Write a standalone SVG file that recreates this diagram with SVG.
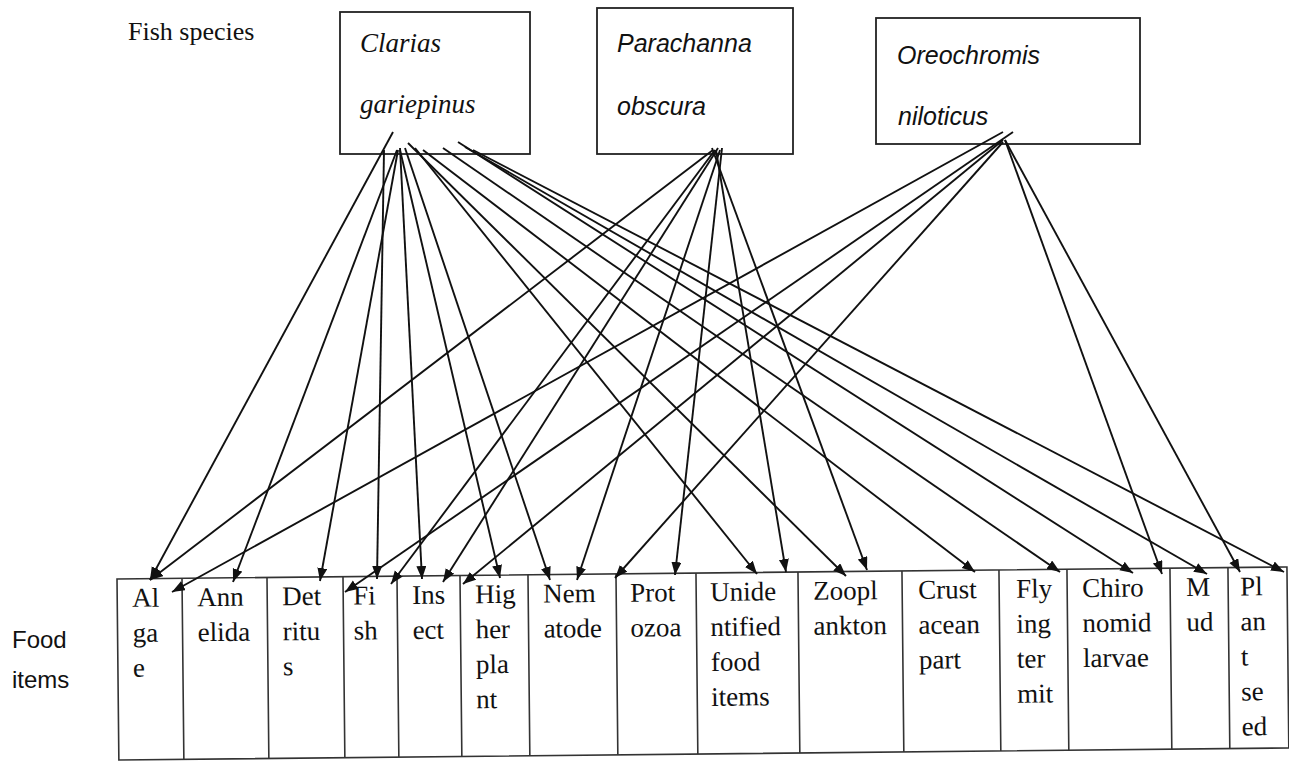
<svg xmlns="http://www.w3.org/2000/svg" width="1289" height="761" viewBox="0 0 1289 761">
<style>
.bg{fill:#ffffff}
.box{fill:none;stroke:#222;stroke-width:1.8}
.sp{font-family:"Liberation Sans",Arial,sans-serif;font-style:italic;font-size:25px;fill:#111}
.spc{font-family:"Liberation Serif","Times New Roman",serif;font-style:italic;font-size:27px;fill:#111}
.lbl{font-family:"Liberation Serif","Times New Roman",serif;font-size:26px;fill:#111}
.lbls{font-family:"Liberation Sans",Arial,sans-serif;font-size:24px;fill:#111}
.cell{font-family:"Liberation Serif","Times New Roman",serif;font-size:27px;fill:#111}
.grid{fill:none;stroke:#333;stroke-width:1.6}
.c line{stroke:#111;stroke-width:1.9;marker-end:url(#ah)}
</style>
<defs>
<marker id="ah" markerUnits="userSpaceOnUse" markerWidth="15" markerHeight="12" refX="13" refY="5" orient="auto">
<path d="M0,0 L13,5 L0,10 z" fill="#111"/>
</marker>
</defs>
<rect class="bg" x="0" y="0" width="1289" height="761"/>
<text class="lbl" x="128" y="40">Fish species</text>
<g id="clarias">
<rect class="box" x="340" y="12" width="190" height="142"/>
<text class="spc" x="360" y="52">Clarias</text>
<text class="spc" x="360" y="113">gariepinus</text>
</g>
<g id="parachanna">
<rect class="box" x="597" y="8" width="196" height="146"/>
<text class="sp" x="617" y="52">Parachanna</text>
<text class="sp" x="617" y="115">obscura</text>
</g>
<g id="oreochromis">
<rect class="box" x="876" y="18" width="264" height="126"/>
<text class="sp" x="897" y="64">Oreochromis</text>
<text class="sp" x="898" y="125">niloticus</text>
</g>
<g id="food-label">
<text class="lbls" x="12" y="648">Food</text>
<text class="lbls" x="12" y="688">items</text>
</g>
<g id="food-table" transform="rotate(-0.59 117 579)">
<rect class="grid" x="117" y="579" width="1170" height="181"/>
<path class="grid" d="M182,579V760M267,579V760M343,579V760M397,579V760M460,579V760M528,579V760M616,579V760M696,579V760M798,579V760M902,579V760M999,579V760M1067,579V760M1170,579V760M1228,579V760"/>
<g id="algae" class="cell"><text x="132" y="607">Al</text><text x="132" y="642">ga</text><text x="132" y="677">e</text></g>
<g id="annelida" class="cell"><text x="197" y="607">Ann</text><text x="197" y="642">elida</text></g>
<g id="detritus" class="cell"><text x="282" y="607">Det</text><text x="282" y="642">ritu</text><text x="282" y="677">s</text></g>
<g id="fish" class="cell"><text x="353" y="607">Fi</text><text x="353" y="642">sh</text></g>
<g id="insect" class="cell"><text x="412" y="607">Ins</text><text x="412" y="642">ect</text></g>
<g id="higher-plant" class="cell"><text x="475" y="607">Hig</text><text x="475" y="642">her</text><text x="475" y="677">pla</text><text x="475" y="712">nt</text></g>
<g id="nematode" class="cell"><text x="543" y="607">Nem</text><text x="543" y="642">atode</text></g>
<g id="protozoa" class="cell"><text x="630" y="607">Prot</text><text x="630" y="642">ozoa</text></g>
<g id="unidentified" class="cell"><text x="710" y="607">Unide</text><text x="710" y="642">ntified</text><text x="710" y="677">food</text><text x="710" y="712">items</text></g>
<g id="zooplankton" class="cell"><text x="813" y="607">Zoopl</text><text x="813" y="642">ankton</text></g>
<g id="crustacean" class="cell"><text x="918" y="607">Crust</text><text x="918" y="642">acean</text><text x="918" y="677">part</text></g>
<g id="flying-termite" class="cell"><text x="1016" y="607">Fly</text><text x="1016" y="642">ing</text><text x="1016" y="677">ter</text><text x="1016" y="712">mit</text></g>
<g id="chironomid" class="cell"><text x="1082" y="607">Chiro</text><text x="1082" y="642">nomid</text><text x="1082" y="677">larvae</text></g>
<g id="mud" class="cell"><text x="1186" y="607">M</text><text x="1186" y="642">ud</text></g>
<g id="plant-seed" class="cell"><text x="1240" y="607">Pl</text><text x="1240" y="642">an</text><text x="1240" y="677">t</text><text x="1240" y="712">se</text><text x="1240" y="747">ed</text></g>
</g>
<g id="connectors" class="c">
<!-- Clarias gariepinus -->
<line x1="393" y1="132" x2="150" y2="580"/>
<line x1="397" y1="150" x2="233" y2="582"/>
<line x1="398" y1="150" x2="320" y2="581"/>
<line x1="384" y1="150" x2="377" y2="579"/>
<line x1="400" y1="148" x2="422" y2="579"/>
<line x1="400" y1="150" x2="500" y2="578"/>
<line x1="405" y1="148" x2="550" y2="580"/>
<line x1="415" y1="148" x2="757" y2="574"/>
<line x1="408" y1="143" x2="846" y2="576"/>
<line x1="423" y1="150" x2="975" y2="572"/>
<line x1="443" y1="148" x2="1060" y2="572"/>
<line x1="458" y1="142" x2="1133" y2="573"/>
<line x1="465" y1="147" x2="1207" y2="574"/>
<line x1="473" y1="150" x2="1284" y2="572"/>
<!-- Parachanna obscura -->
<line x1="713" y1="150" x2="150" y2="580"/>
<line x1="715" y1="150" x2="391" y2="584"/>
<line x1="718" y1="148" x2="443" y2="582"/>
<line x1="720" y1="150" x2="577" y2="580"/>
<line x1="722" y1="148" x2="675" y2="575"/>
<line x1="716" y1="150" x2="786" y2="572"/>
<line x1="712" y1="148" x2="867" y2="570"/>
<!-- Oreochromis niloticus -->
<line x1="1003" y1="132" x2="172" y2="592"/>
<line x1="1013" y1="132" x2="345" y2="592"/>
<line x1="1003" y1="140" x2="463" y2="584"/>
<line x1="1003" y1="142" x2="615" y2="578"/>
<line x1="1005" y1="140" x2="1162" y2="574"/>
<line x1="1005" y1="140" x2="1240" y2="572"/>
</g>
</svg>
